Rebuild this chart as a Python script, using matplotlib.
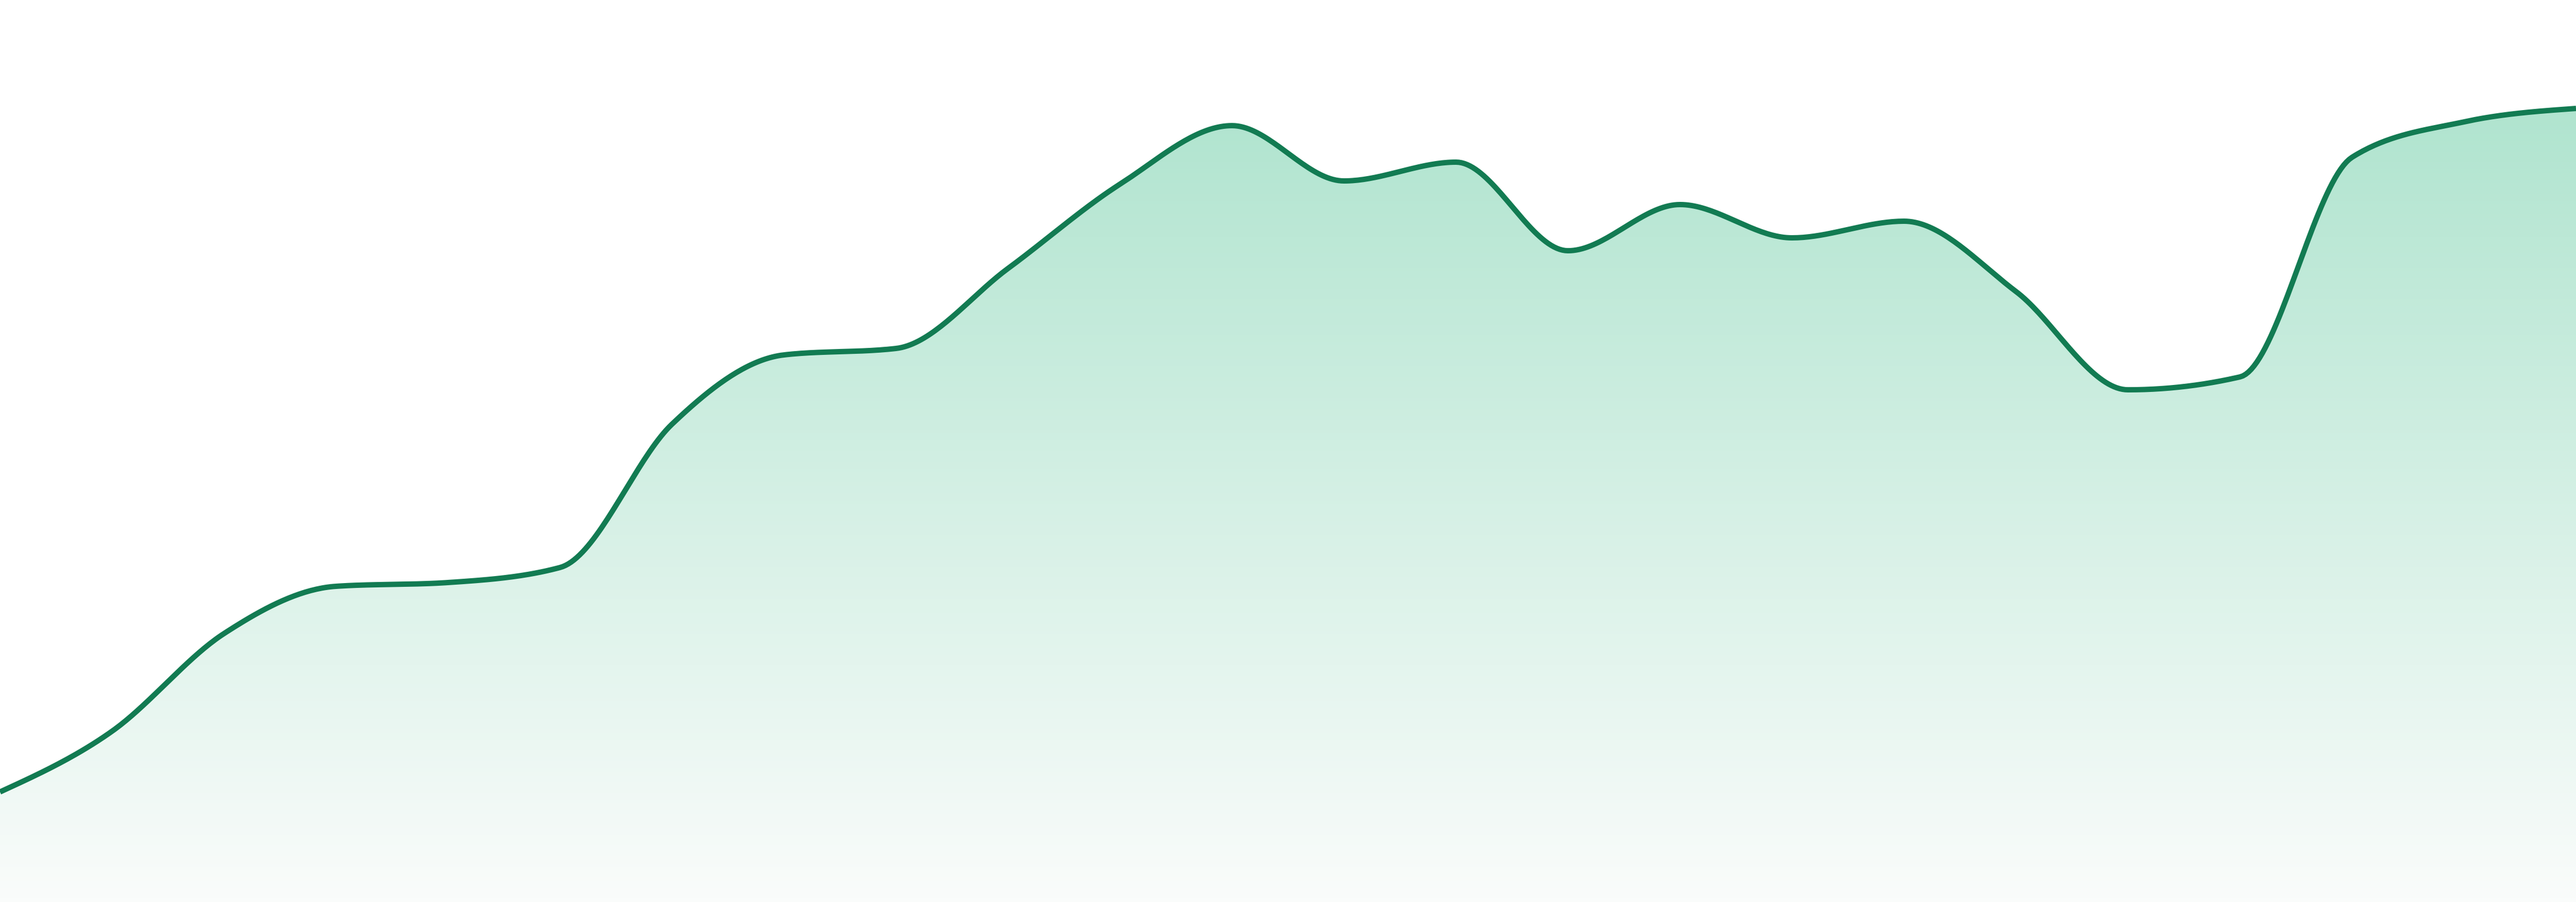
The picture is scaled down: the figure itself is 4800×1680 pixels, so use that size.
import numpy as np
import matplotlib
matplotlib.use("Agg")
import matplotlib.pyplot as plt
from matplotlib.patches import Polygon

# Data (24 evenly spaced samples)
steps = np.arange(24)
values = [20.5, 31.8, 50.0, 58.8, 59.5, 62.3, 89.0, 101.9, 103.1, 118.0,
          133.7, 144.6, 134.3, 137.8, 121.3, 129.9, 123.7, 126.8, 113.7, 95.4,
          97.8, 138.7, 145.3, 147.8]

line_color = "#127b52"
top_rgb = (166, 225, 201)
bottom_rgb = (250, 252, 251)


def monotone_x(x, y, n=40):
    # monotone cubic curve, same rule as d3.curveMonotoneX
    x = np.asarray(x, float)
    y = np.asarray(y, float)
    h = np.diff(x)
    s = np.diff(y) / h
    t = np.zeros(len(x))
    for i in range(1, len(x) - 1):
        s0, s1 = s[i - 1], s[i]
        p = (s0 * h[i] + s1 * h[i - 1]) / (h[i - 1] + h[i])
        t[i] = (np.sign(s0) + np.sign(s1)) * min(abs(s0), abs(s1), 0.5 * abs(p)) or 0.0
    t[0] = (3 * s[0] - t[1]) / 2
    t[-1] = (3 * s[-1] - t[-2]) / 2
    xs, ys = [], []
    u = np.linspace(0, 1, n, endpoint=False)
    for i in range(len(x) - 1):
        dx = h[i] / 3
        p0 = np.array([x[i], y[i]])
        p1 = np.array([x[i] + dx, y[i] + dx * t[i]])
        p2 = np.array([x[i + 1] - dx, y[i + 1] - dx * t[i + 1]])
        p3 = np.array([x[i + 1], y[i + 1]])
        b = ((1 - u) ** 3)[:, None] * p0 + (3 * (1 - u) ** 2 * u)[:, None] * p1 \
            + (3 * (1 - u) * u ** 2)[:, None] * p2 + (u ** 3)[:, None] * p3
        xs.append(b[:, 0])
        ys.append(b[:, 1])
    xs.append([x[-1]])
    ys.append([y[-1]])
    return np.concatenate(xs), np.concatenate(ys)


fig = plt.figure(figsize=(48, 16.8), dpi=100)
ax = fig.add_axes([0, 0, 1, 1])
ax.set_xlim(0, 23)
ax.set_ylim(0, 168)
ax.axis("off")

cx, cy = monotone_x(steps, values)

# vertical gradient under the line
ramp = np.linspace(0, 1, 256)[:, None]
grad = np.zeros((256, 1, 3))
for k in range(3):
    grad[:, 0, k] = (top_rgb[k] + (bottom_rgb[k] - top_rgb[k]) * ramp[:, 0]) / 255
img = ax.imshow(grad, extent=[0, 23, 0, 168], origin="upper", aspect="auto", zorder=1)
poly = Polygon(np.column_stack([np.r_[cx, 23, 0], np.r_[cy, 0, 0]]),
               closed=True, facecolor="none", edgecolor="none")
ax.add_patch(poly)
img.set_clip_path(poly)

ax.plot(cx, cy, color=line_color, linewidth=7.2, solid_capstyle="butt", zorder=3)

fig.savefig("out.png", dpi=100, facecolor="white")
